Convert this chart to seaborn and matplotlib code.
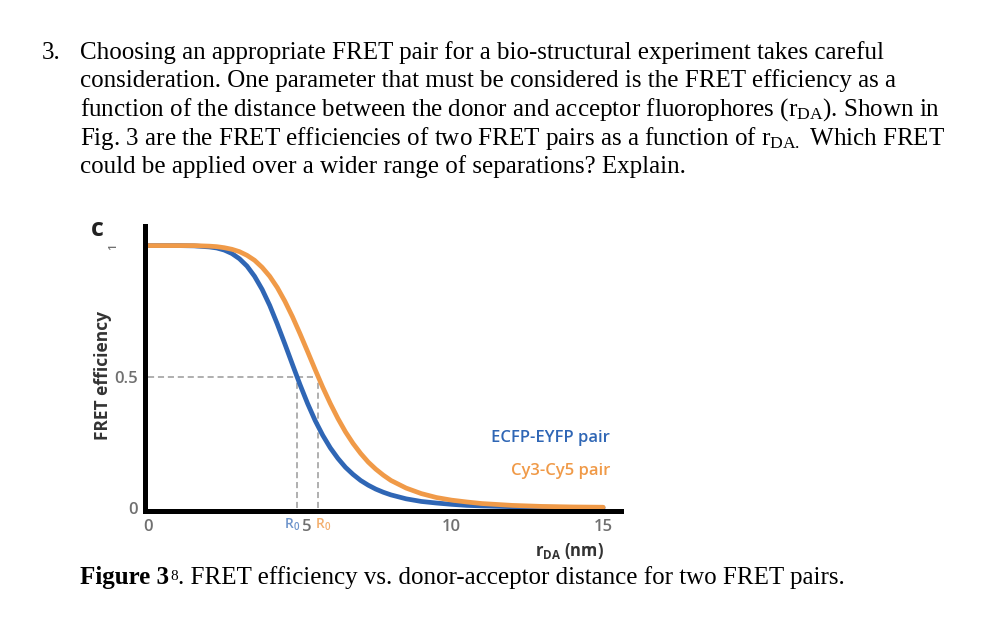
import matplotlib
matplotlib.use("Agg")
import matplotlib.pyplot as plt
from matplotlib.transforms import ScaledTranslation
import pandas as pd
import seaborn as sns

# donor-acceptor distance (nm) and FRET efficiencies
r_da = [0, 0.5, 1, 1.5, 2, 2.25, 2.5, 2.75, 3, 3.25, 3.5, 3.75, 4, 4.25, 4.5, 4.75,
        5, 5.25, 5.5, 5.75, 6, 6.25, 6.5, 6.75, 7, 7.25, 7.5, 7.75, 8, 8.5, 9, 9.5,
        10, 10.5, 11, 12, 13, 14, 15]
ecfp_eyfp = [1.0, 1.0, 1.0, 0.999, 0.995, 0.991, 0.983, 0.970, 0.950, 0.922, 0.883,
             0.833, 0.772, 0.701, 0.625, 0.547, 0.470, 0.398, 0.333, 0.277, 0.229,
             0.189, 0.155, 0.128, 0.105, 0.087, 0.072, 0.060, 0.050, 0.035, 0.025,
             0.019, 0.014, 0.010, 0.008, 0.005, 0.003, 0.002, 0.001]
cy3_cy5 = [1.0, 1.0, 1.0, 1.0, 0.998, 0.996, 0.992, 0.986, 0.977, 0.963, 0.944,
           0.917, 0.883, 0.840, 0.788, 0.729, 0.664, 0.596, 0.527, 0.460, 0.398,
           0.341, 0.290, 0.246, 0.208, 0.175, 0.148, 0.125, 0.105, 0.076, 0.055,
           0.040, 0.030, 0.023, 0.017, 0.010, 0.006, 0.004, 0.003]
pair_names = ["ECFP-EYFP pair", "Cy3-Cy5 pair"]
r0_values = [4.9, 5.6]   # Förster radius of each pair
half_eff = 0.5
x_ticks = [0, 5, 10, 15]
x_tick_labels = ["0", "5", "10", "15"]
y_ticks = [0, 0.5]
y_tick_labels = ["0", "0.5"]

question_number = "3."
question_lines = [
    "Choosing an appropriate FRET pair for a bio-structural experiment takes careful",
    "consideration. One parameter that must be considered is the FRET efficiency as a",
    r"function of the distance between the donor and acceptor fluorophores ($\mathregular{r_{DA}}$). Shown in",
    r"Fig. 3 are the FRET efficiencies of two FRET pairs as a function of $\mathregular{r_{DA.}}$ Which FRET",
    "could be applied over a wider range of separations? Explain.",
]
caption_bold = "Figure 3"
caption_ref = "8"
caption_rest = ". FRET efficiency vs. donor-acceptor distance for two FRET pairs."

BLUE = "#2f66b5"
ORANGE = "#f09a48"
W, H = 1004, 629
TEXT_SIZE = 18


def px(x, y):
    # pixel position (from top-left) -> figure fraction
    return x / W, 1 - y / H


sns.set_theme(style="white")
plt.rcParams["font.family"] = ["Open Sans", "DejaVu Sans"]

fig = plt.figure(figsize=(W / 100, H / 100), dpi=100)
fig.patch.set_facecolor("white")

# chart
ax = fig.add_axes([145 / W, 1 - 511 / H, (621 - 145) / W, (511 - 226) / H])
ax.set_facecolor("white")

n = len(r_da)
df = pd.DataFrame({
    "r": r_da + r_da,
    "E": ecfp_eyfp + cy3_cy5,
    "pair": [pair_names[0]] * n + [pair_names[1]] * n,
})
sns.lineplot(data=df, x="r", y="E", hue="pair", palette=[BLUE, ORANGE],
             linewidth=3.4, legend=False, ax=ax)

# R0 guide lines
ax.plot([0, max(r0_values)], [half_eff, half_eff], color="#9a9a9a",
        linestyle=(0, (4, 2.5)), linewidth=1.1, zorder=1)
for r0 in r0_values:
    ax.plot([r0, r0], [0, half_eff], color="#9a9a9a",
            linestyle=(0, (4, 2.5)), linewidth=1.1, zorder=1)

ax.set_xlim(-0.115, 15.59)
ax.set_ylim(-0.0114, 1.0747)
sns.despine(ax=ax)
for side in ["left", "bottom"]:
    ax.spines[side].set_linewidth(3.6)
    ax.spines[side].set_color("black")
ax.grid(False)

ax.set_xticks(x_ticks, labels=x_tick_labels)
ax.set_yticks(y_ticks, labels=y_tick_labels)
ax.tick_params(length=0, labelsize=12, labelcolor="#707070")
ax.tick_params(axis="x", pad=6)
ax.tick_params(axis="y", pad=5)
for lab in ax.get_xticklabels() + ax.get_yticklabels():
    lab.set_fontweight("semibold")
# the "5" sits slightly right to leave room for the blue R0
ax.get_xticklabels()[1].set_transform(
    ax.get_xticklabels()[1].get_transform() + ScaledTranslation(5 / 72, 0, fig.dpi_scale_trans))
ax.set_xlabel("")
ax.set_ylabel("")

xt = ax.get_xaxis_transform()
ax.text(r0_values[0] + 0.1, -0.048, r"$\mathregular{R_0}$", transform=xt, ha="right",
        va="center", fontsize=10, color=BLUE, alpha=0.7, fontweight="semibold")
ax.text(r0_values[1] - 0.12, -0.048, r"$\mathregular{R_0}$", transform=xt, ha="left",
        va="center", fontsize=10, color=ORANGE, alpha=0.8, fontweight="semibold")

fig.text(*px(610, 438), pair_names[0], ha="right", va="center", fontsize=12,
         color=BLUE, fontweight="semibold")
fig.text(*px(610, 471), pair_names[1], ha="right", va="center", fontsize=12,
         color=ORANGE, fontweight="semibold")

fig.text(*px(103, 375), "FRET efficiency", rotation=90, ha="center", va="center",
         fontsize=12.5, fontweight="bold", color="#333333")
fig.text(*px(114, 247), "1", rotation=90, ha="center", va="center",
         fontsize=8, color="#707070", fontweight="semibold")
fig.text(*px(97, 230), "c", ha="center", va="center", fontsize=18,
         fontweight="bold", color="#222222")
fig.text(*px(604, 551), r"$\mathregular{r_{DA}}$ (nm)", ha="right", va="center",
         fontsize=12, fontweight="bold", color="#333333")

# question text
serif = ["Liberation Serif", "DejaVu Serif"]
fig.text(*px(42, 59), question_number, ha="left", va="baseline", fontsize=TEXT_SIZE,
         family=serif, color="black")
for i, line in enumerate(question_lines):
    fig.text(*px(80, 59 + 28.5 * i), line, ha="left", va="baseline",
             fontsize=TEXT_SIZE, family=serif, color="black")

# caption, built from runs
renderer = fig.canvas.get_renderer()
x = 80
t = fig.text(*px(x, 584), caption_bold, ha="left", va="baseline", fontsize=TEXT_SIZE,
             family=serif, fontweight="bold", color="black")
x += t.get_window_extent(renderer).width + 1
t = fig.text(*px(x, 580), caption_ref, ha="left", va="baseline", fontsize=11,
             family=serif, color="black")
x += t.get_window_extent(renderer).width
fig.text(*px(x, 584), caption_rest, ha="left", va="baseline", fontsize=TEXT_SIZE,
         family=serif, color="black")

fig.savefig("out.png", dpi=100)
